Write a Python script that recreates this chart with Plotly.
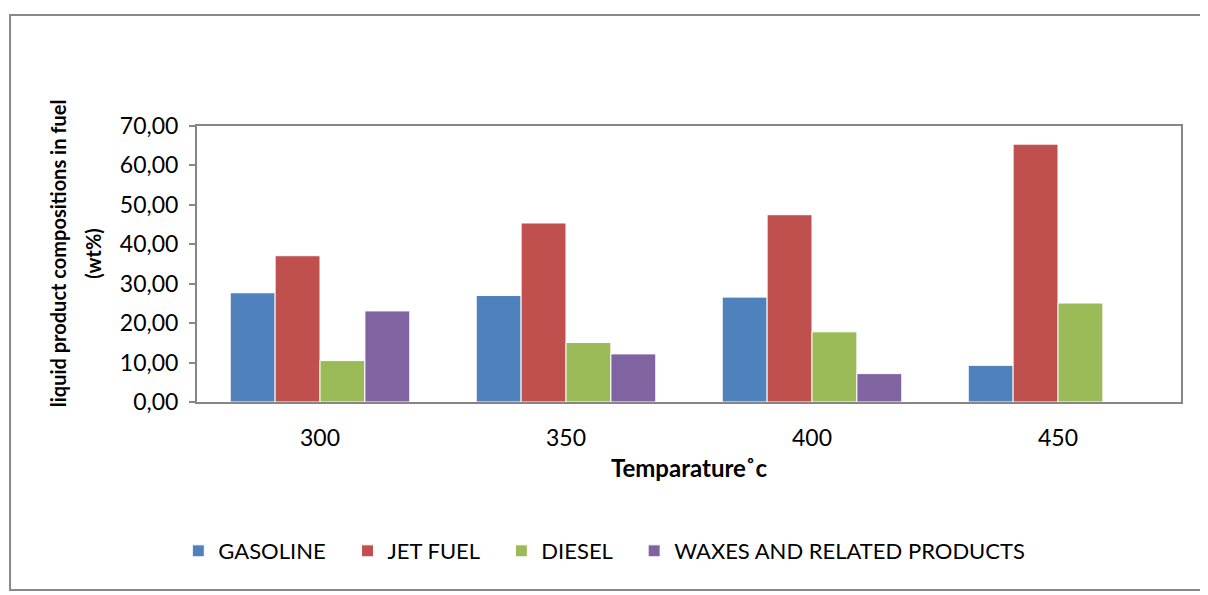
import plotly.graph_objects as go

temps = ["300", "350", "400", "450"]
gasoline = [27.7, 27.0, 26.6, 9.3]
jet_fuel = [37.1, 45.4, 47.5, 65.4]
diesel = [10.5, 15.1, 17.8, 25.1]
waxes = [23.1, 12.2, 7.2, 0]

series = [
    ("GASOLINE", gasoline, "#4F81BD"),
    ("JET FUEL", jet_fuel, "#C0504D"),
    ("DIESEL", diesel, "#9BBB59"),
    ("WAXES AND RELATED PRODUCTS", waxes, "#8064A2"),
]

pad = "\u00a0" * 3  # extra room between legend entries

fig = go.Figure()
for name, vals, color in series:
    fig.add_trace(go.Bar(x=temps, y=vals, name=name + pad,
                         marker=dict(color=color, line=dict(color="white", width=1))))

font = "Lato, 'Open Sans', sans-serif"
fig.update_layout(
    width=1200, height=587,
    margin=dict(l=189, r=27, t=118, b=193),
    paper_bgcolor="white", plot_bgcolor="white",
    barmode="group", bargap=0.27, bargroupgap=0,
    separators=", ",
    font=dict(family=font, size=23, color="black"),
    showlegend=True,
    legend=dict(orientation="h", x=-0.019, xanchor="left", y=-0.54, yanchor="middle",
                font=dict(size=22), itemwidth=30, traceorder="normal"),
)
fig.update_xaxes(showline=True, linecolor="#868686", linewidth=2, mirror=True,
                 ticks="", showgrid=False, ticklabelstandoff=14,
                 title=dict(text="<b>Temparature˚c</b>", standoff=11, font=dict(size=24)))
fig.update_yaxes(range=[0, 70], dtick=10, tickformat=".2f",
                 showline=True, linecolor="#868686", linewidth=2, mirror=True,
                 ticks="outside", ticklen=6, tickcolor="#868686", tickwidth=2,
                 ticklabelstandoff=6,
                 showgrid=False, zeroline=False)

# y-axis title, two lines
fig.add_annotation(xref="paper", yref="paper", x=-0.141, y=0.54, xanchor="center", yanchor="middle",
                   textangle=-90, showarrow=False,
                   text="<b>liquid product compositions in fuel</b>", font=dict(size=20))
fig.add_annotation(xref="paper", yref="paper", x=-0.106, y=0.54, xanchor="center", yanchor="middle",
                   textangle=-90, showarrow=False,
                   text="<b>(wt%)</b>", font=dict(size=20))

# outer chart frame
fig.add_shape(type="rect", xref="paper", yref="paper",
              x0=-0.190, x1=1.04, y0=-0.681, y1=1.402,
              line=dict(color="#888888", width=2), layer="below")

fig.write_html("out.html")
